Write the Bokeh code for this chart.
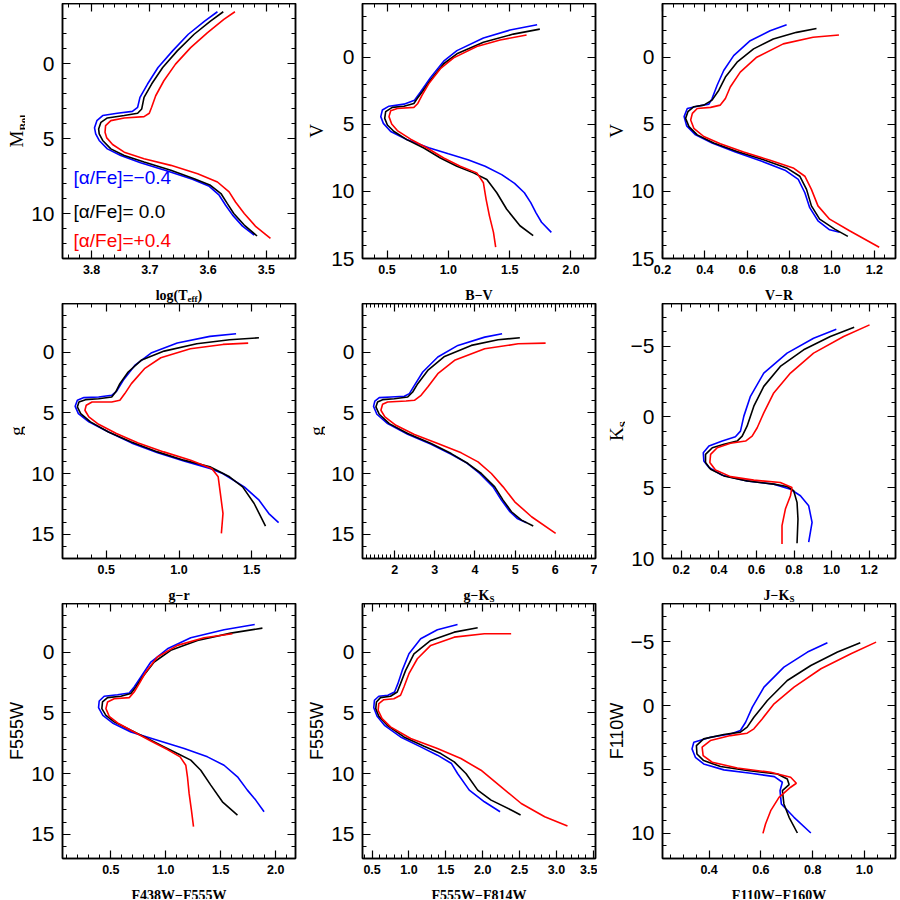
import math
from bokeh.plotting import figure
from bokeh.models import (Range1d, LinearAxis, SingleIntervalTicker, PrintfTickFormatter,
                          CustomJSTickFormatter, Label)
from bokeh.layouts import gridplot
from bokeh.embed import file_html
from bokeh.resources import INLINE

BLUE = "#0000ff"
BLACK = "#000000"
RED = "#ff0000"
LEGEND = ["[α/Fe]=−0.4", "[α/Fe]= 0.0", "[α/Fe]=+0.4"]

# ---------------- Panel 1: log(Teff) vs M_Bol ----------------
logteff_blue = [3.584, 3.606, 3.634, 3.661, 3.686, 3.704, 3.717, 3.721, 3.730, 3.756, 3.781, 3.791, 3.795,
                3.793, 3.787, 3.773, 3.750, 3.716, 3.670, 3.627, 3.598, 3.581, 3.570, 3.558, 3.541, 3.521]
mbol_blue = [-3.45, -2.83, -1.95, -0.84, 0.27, 1.37, 2.26, 2.92, 3.19, 3.32, 3.47, 3.81, 4.29,
             4.69, 5.13, 5.69, 6.13, 6.62, 7.17, 7.72, 8.19, 8.78, 9.45, 10.11, 10.84, 11.44]
logteff_black = [3.574, 3.596, 3.624, 3.653, 3.678, 3.697, 3.710, 3.714, 3.721, 3.744, 3.773, 3.784, 3.788,
                 3.787, 3.781, 3.767, 3.744, 3.710, 3.664, 3.624, 3.596, 3.578, 3.567, 3.556, 3.538, 3.516]
mbol_black = [-3.45, -2.83, -1.95, -0.84, 0.27, 1.37, 2.26, 3.03, 3.32, 3.47, 3.63, 3.92, 4.36,
              4.69, 5.13, 5.69, 6.13, 6.57, 7.12, 7.68, 8.12, 8.67, 9.34, 10.0, 10.77, 11.5]
logteff_red = [3.554, 3.573, 3.601, 3.630, 3.656, 3.676, 3.690, 3.697, 3.701, 3.710, 3.744, 3.767, 3.776,
               3.777, 3.774, 3.764, 3.744, 3.710, 3.664, 3.618, 3.584, 3.564, 3.553, 3.538, 3.518, 3.493]
mbol_red = [-3.45, -2.94, -2.06, -1.06, 0.04, 1.15, 2.15, 2.92, 3.32, 3.54, 3.63, 3.81, 4.14,
            4.58, 4.96, 5.40, 5.91, 6.35, 6.79, 7.35, 7.90, 8.56, 9.23, 10.0, 10.88, 11.66]

# ---------------- Panel 2: B-V vs V ----------------
bv_blue = [1.724, 1.503, 1.286, 1.070, 0.962, 0.854, 0.773, 0.724, 0.638, 0.516, 0.462, 0.449, 0.470,
           0.530, 0.665, 0.840, 1.000, 1.160, 1.300, 1.435, 1.540, 1.620, 1.672, 1.715, 1.760, 1.840]
v_bv_blue = [-2.41, -2.02, -1.43, -0.49, 0.30, 1.53, 2.59, 3.20, 3.50, 3.65, 3.94, 4.43, 4.93,
             5.54, 6.16, 6.75, 7.20, 7.64, 8.13, 8.75, 9.40, 10.10, 10.84, 11.60, 12.30, 13.05]
bv_black = [1.746, 1.530, 1.286, 1.070, 0.962, 0.854, 0.786, 0.746, 0.719, 0.638, 0.543, 0.489, 0.481,
            0.503, 0.557, 0.665, 0.800, 0.935, 1.070, 1.205, 1.314, 1.395, 1.476, 1.584, 1.692]
v_bv_black = [-2.09, -1.72, -1.11, -0.25, 0.49, 1.72, 2.59, 3.08, 3.45, 3.65, 3.74, 4.06, 4.56,
              5.05, 5.54, 6.16, 6.77, 7.51, 8.13, 8.62, 9.11, 10.10, 11.33, 12.56, 13.30]
bv_red = [1.638, 1.422, 1.232, 1.043, 0.935, 0.841, 0.786, 0.751, 0.719, 0.584, 0.530, 0.516,
          0.538, 0.584, 0.692, 0.827, 0.962, 1.097, 1.232, 1.286, 1.308, 1.335, 1.368, 1.386]
v_bv_red = [-1.65, -1.28, -0.79, 0.05, 0.86, 1.97, 2.83, 3.45, 3.74, 3.82, 3.99, 4.43,
            4.98, 5.47, 6.11, 6.77, 7.51, 8.13, 8.62, 9.36, 10.59, 11.82, 13.05, 14.16]

# ---------------- Panel 3: V-R vs V ----------------
vr_blue = [0.786, 0.708, 0.614, 0.536, 0.489, 0.458, 0.434, 0.419, 0.364, 0.317, 0.302, 0.314,
           0.356, 0.434, 0.544, 0.669, 0.778, 0.841, 0.872, 0.895, 0.934, 0.989, 1.036]
v_vr_blue = [-2.41, -1.97, -1.23, -0.12, 0.99, 2.09, 3.08, 3.50, 3.65, 3.82, 4.43, 5.12,
             5.79, 6.40, 7.07, 7.76, 8.42, 9.11, 10.10, 11.21, 12.19, 12.86, 13.05]
vr_black = [0.927, 0.833, 0.723, 0.630, 0.552, 0.497, 0.466, 0.434, 0.395, 0.348, 0.320, 0.309,
            0.325, 0.364, 0.442, 0.552, 0.677, 0.786, 0.848, 0.880, 0.903, 0.942, 1.013, 1.075]
v_vr_black = [-2.14, -1.85, -1.35, -0.62, 0.37, 1.48, 2.46, 3.20, 3.57, 3.69, 4.06, 4.56,
              5.17, 5.79, 6.40, 7.02, 7.64, 8.25, 8.87, 9.85, 11.08, 12.07, 12.81, 13.35]
vr_red = [1.033, 0.911, 0.770, 0.645, 0.567, 0.520, 0.497, 0.473, 0.427, 0.364, 0.341, 0.333,
          0.348, 0.395, 0.473, 0.583, 0.708, 0.817, 0.872, 0.903, 0.934, 0.989, 1.083, 1.223]
v_vr_red = [-1.65, -1.48, -0.99, 0.00, 1.11, 2.22, 3.08, 3.57, 3.74, 3.82, 4.19, 4.68,
            5.30, 5.91, 6.45, 7.07, 7.68, 8.25, 8.87, 9.85, 11.08, 12.07, 12.93, 14.16]

# ---------------- Panel 4: g-r vs g ----------------
gr_blue = [1.392, 1.212, 0.988, 0.808, 0.696, 0.617, 0.572, 0.538, 0.448, 0.347, 0.302, 0.287,
           0.309, 0.381, 0.516, 0.673, 0.853, 1.033, 1.212, 1.300, 1.448, 1.550, 1.617, 1.684]
g_gr_blue = [-1.51, -1.29, -0.74, 0.08, 1.10, 2.33, 3.21, 3.56, 3.70, 3.75, 3.97, 4.47,
             5.07, 5.75, 6.58, 7.48, 8.30, 8.96, 9.59, 10.00, 11.10, 12.20, 13.30, 14.05]
gr_black = [1.549, 1.347, 1.122, 0.898, 0.740, 0.651, 0.594, 0.565, 0.538, 0.448, 0.358, 0.313,
            0.302, 0.325, 0.392, 0.516, 0.673, 0.853, 1.033, 1.212, 1.347, 1.437, 1.516, 1.594]
g_gr_black = [-1.18, -1.01, -0.68, -0.08, 0.68, 1.64, 2.60, 3.29, 3.70, 3.84, 3.92, 4.11,
              4.52, 5.07, 5.75, 6.58, 7.40, 8.22, 8.90, 9.45, 10.27, 11.10, 12.47, 14.33]
gr_red = [1.475, 1.302, 1.078, 0.875, 0.763, 0.673, 0.628, 0.594, 0.538, 0.403, 0.363, 0.354,
          0.381, 0.448, 0.570, 0.720, 0.895, 1.080, 1.225, 1.269, 1.284, 1.302, 1.291]
g_gr_red = [-0.74, -0.63, -0.27, 0.47, 1.37, 2.60, 3.42, 3.97, 4.11, 4.11, 4.38, 4.79,
            5.34, 5.95, 6.71, 7.48, 8.22, 8.90, 9.59, 10.27, 11.64, 13.29, 14.93]

# ---------------- Panel 5: g-Ks vs g ----------------
gk_blue = [4.675, 4.242, 3.575, 3.075, 2.700, 2.492, 2.367, 2.242, 1.908, 1.617, 1.508, 1.475,
           1.558, 1.825, 2.325, 2.908, 3.408, 3.800, 4.117, 4.450, 4.658, 4.870, 5.050, 5.283]
g_gk_blue = [-1.51, -1.23, -0.55, 0.41, 1.64, 2.74, 3.42, 3.64, 3.70, 3.75, 4.03, 4.47,
             5.12, 5.89, 6.77, 7.59, 8.41, 9.15, 10.00, 11.10, 12.19, 13.15, 13.70, 14.05]
gk_black = [5.117, 4.575, 3.908, 3.242, 2.825, 2.575, 2.450, 2.325, 1.992, 1.700, 1.575, 1.533,
            1.617, 1.867, 2.325, 2.908, 3.408, 3.825, 4.158, 4.492, 4.700, 4.908, 5.158, 5.450]
g_gk_black = [-1.18, -1.01, -0.55, 0.36, 1.51, 2.60, 3.29, 3.70, 3.84, 3.92, 4.11, 4.52,
              5.12, 5.89, 6.71, 7.53, 8.36, 9.18, 10.00, 11.10, 12.19, 13.15, 13.84, 14.33]
gk_red = [5.758, 5.075, 4.242, 3.492, 3.075, 2.825, 2.658, 2.492, 2.283, 1.825, 1.700, 1.658,
          1.758, 2.033, 2.492, 3.075, 3.658, 4.075, 4.408, 4.700, 4.990, 5.408, 6.008]
g_gk_red = [-0.74, -0.68, -0.27, 0.68, 1.78, 2.88, 3.56, 3.97, 4.03, 4.11, 4.30, 4.79,
            5.34, 6.03, 6.79, 7.53, 8.30, 9.04, 10.00, 11.10, 12.33, 13.56, 14.93]

# ---------------- Panel 6: J-Ks vs Ks ----------------
jk_blue = [1.025, 0.904, 0.763, 0.639, 0.568, 0.533, 0.515, 0.488, 0.418, 0.347, 0.317,
           0.320, 0.347, 0.418, 0.550, 0.692, 0.781, 0.834, 0.878, 0.896, 0.878]
k_jk_blue = [-6.18, -5.55, -4.50, -3.09, -1.45, -0.05, 1.01, 1.41, 1.71, 2.06, 2.53,
             3.11, 3.58, 4.12, 4.52, 4.75, 5.11, 5.57, 6.28, 7.45, 8.85]
jk_black = [1.120, 0.993, 0.851, 0.727, 0.639, 0.586, 0.550, 0.524, 0.497, 0.427, 0.365,
            0.329, 0.329, 0.356, 0.427, 0.550, 0.692, 0.763, 0.798, 0.816, 0.821, 0.816]
k_jk_black = [-6.32, -5.67, -4.73, -3.56, -2.15, -0.75, 0.66, 1.36, 1.71, 1.94, 2.18,
              2.65, 3.23, 3.70, 4.17, 4.52, 4.75, 4.92, 5.22, 6.04, 7.21, 8.92]
jk_red = [1.202, 1.064, 0.904, 0.781, 0.692, 0.639, 0.604, 0.577, 0.542, 0.462, 0.391,
          0.356, 0.352, 0.382, 0.462, 0.586, 0.727, 0.789, 0.781, 0.754, 0.736, 0.736]
k_jk_red = [-6.49, -5.67, -4.50, -3.09, -1.69, -0.28, 0.77, 1.36, 1.71, 1.87, 2.18,
            2.65, 3.23, 3.75, 4.22, 4.47, 4.64, 4.99, 5.57, 6.51, 7.68, 8.97]

# ---------------- Panel 7: F438W-F555W vs F555W ----------------
c438_blue = [1.809, 1.530, 1.227, 1.015, 0.864, 0.773, 0.712, 0.667, 0.561, 0.439, 0.394, 0.388,
             0.427, 0.515, 0.682, 0.924, 1.167, 1.379, 1.530, 1.652, 1.742, 1.818, 1.894]
m438_blue = [-2.27, -1.84, -1.18, -0.27, 0.82, 2.05, 2.88, 3.37, 3.51, 3.64, 4.03, 4.58,
             5.21, 5.84, 6.58, 7.26, 7.95, 8.63, 9.32, 10.27, 11.37, 12.19, 13.15]
c438_black = [1.879, 1.591, 1.288, 1.045, 0.894, 0.788, 0.727, 0.682, 0.591, 0.470, 0.424, 0.418,
              0.455, 0.530, 0.682, 0.833, 0.985, 1.106, 1.227, 1.318, 1.409, 1.515, 1.652]
m438_black = [-1.97, -1.56, -0.96, -0.14, 0.82, 2.05, 2.88, 3.42, 3.64, 3.75, 4.11, 4.66,
              5.21, 5.75, 6.44, 7.12, 7.81, 8.36, 8.90, 9.73, 10.96, 12.33, 13.42]
c438_red = [1.606, 1.348, 1.106, 0.924, 0.818, 0.758, 0.712, 0.667, 0.530, 0.470, 0.455,
            0.485, 0.561, 0.712, 0.864, 1.015, 1.130, 1.182, 1.197, 1.212, 1.233, 1.252]
m438_red = [-1.51, -1.18, -0.55, 0.41, 1.64, 2.60, 3.29, 3.75, 3.84, 4.11, 4.66,
            5.29, 5.84, 6.58, 7.32, 8.03, 8.63, 9.32, 10.27, 11.64, 13.01, 14.38]

# ---------------- Panel 8: F555W-F814W vs F555W ----------------
c814_blue = [1.659, 1.386, 1.159, 1.000, 0.909, 0.850, 0.805, 0.714, 0.591, 0.532, 0.523,
             0.568, 0.668, 0.886, 1.159, 1.386, 1.577, 1.659, 1.818, 2.023, 2.236]
m814_blue = [-2.27, -1.84, -1.10, 0.14, 1.51, 2.60, 3.29, 3.56, 3.64, 3.97, 4.58,
             5.29, 6.03, 6.99, 7.81, 8.49, 9.18, 10.00, 11.37, 12.33, 13.15]
c814_black = [1.932, 1.614, 1.295, 1.068, 0.955, 0.886, 0.841, 0.750, 0.614, 0.559, 0.550,
              0.591, 0.705, 0.932, 1.205, 1.432, 1.614, 1.773, 1.932, 2.114, 2.386, 2.514]
m814_black = [-2.00, -1.64, -0.96, 0.14, 1.51, 2.60, 3.29, 3.64, 3.75, 4.11, 4.66,
              5.29, 6.03, 6.99, 7.75, 8.36, 9.04, 10.00, 11.37, 12.19, 13.01, 13.42]
c814_red = [2.386, 2.023, 1.614, 1.295, 1.114, 1.000, 0.932, 0.886, 0.795, 0.659, 0.591,
            0.582, 0.636, 0.750, 1.023, 1.386, 1.705, 1.977, 2.250, 2.523, 2.841, 3.150]
m814_red = [-1.51, -1.51, -1.23, -0.55, 0.55, 1.78, 2.88, 3.56, 3.84, 3.92, 4.25,
            4.79, 5.48, 6.16, 7.12, 7.95, 8.77, 9.73, 11.10, 12.47, 13.56, 14.33]

# ---------------- Panel 9: F110W-F160W vs F110W ----------------
c160_blue = [0.857, 0.780, 0.689, 0.612, 0.567, 0.541, 0.521, 0.483, 0.405, 0.341, 0.334,
             0.347, 0.379, 0.457, 0.561, 0.652, 0.683, 0.674, 0.679, 0.728, 0.793]
m160_blue = [-4.92, -4.19, -3.01, -1.44, 0.13, 1.31, 1.96, 2.23, 2.49, 2.88, 3.40,
             4.06, 4.58, 5.05, 5.31, 5.58, 6.02, 6.68, 7.72, 8.77, 10.00]
c160_black = [0.984, 0.896, 0.793, 0.702, 0.625, 0.573, 0.547, 0.521, 0.457, 0.379, 0.351,
              0.353, 0.379, 0.444, 0.547, 0.664, 0.702, 0.709, 0.683, 0.689, 0.709, 0.741]
m160_black = [-4.92, -4.19, -3.14, -1.96, -0.39, 0.92, 1.70, 2.09, 2.28, 2.62, 3.14,
              3.80, 4.32, 4.79, 5.10, 5.37, 5.76, 6.20, 6.68, 7.72, 8.77, 10.00]
c160_red = [1.045, 0.948, 0.832, 0.728, 0.651, 0.605, 0.573, 0.547, 0.483, 0.405, 0.373,
            0.377, 0.412, 0.509, 0.638, 0.715, 0.737, 0.715, 0.670, 0.638, 0.618, 0.608]
m160_red = [-4.97, -4.06, -2.88, -1.44, -0.13, 1.05, 1.83, 2.17, 2.36, 2.75, 3.27,
            3.93, 4.45, 4.90, 5.24, 5.63, 6.10, 6.41, 7.20, 8.25, 9.29, 10.03]

SERIF = "Liberation Serif"
SANS = "Liberation Sans"
FW, FH = 233, 255          # nominal plot frame size
BL, BR, BB = 37, 2, 23     # borders of each plot figure
MAIN_W = BL + FW + BR      # 272
MAIN_H = FH + BB           # 278
YT_W = 28                  # width of y-title strip (YT_W + BL = 65)


def style_axis(ax, labels, font_size="11px", font_style="normal", standoff=8):
    ax.axis_line_color = "black"
    ax.axis_line_width = 1.5
    ax.major_tick_line_color = "black"
    ax.major_tick_line_width = 1.2
    ax.minor_tick_line_color = "black"
    ax.minor_tick_line_width = 1.0
    ax.major_tick_in = 8
    ax.major_tick_out = 0
    ax.minor_tick_in = 4
    ax.minor_tick_out = 0
    ax.axis_label = None
    if labels:
        ax.major_label_text_font = SANS
        ax.major_label_text_font_size = font_size
        ax.major_label_text_font_style = font_style
        ax.major_label_text_color = "black"
        ax.major_label_standoff = standoff
    else:
        ax.major_label_text_font_size = "0px"
        ax.major_label_text_color = None
        ax.major_label_standoff = 0


def blank(width, height):
    f = figure(width=width, height=height, min_border=0, x_range=Range1d(0, 1), y_range=Range1d(0, 1),
               x_axis_location=None, y_axis_location=None, output_backend="svg", toolbar_location=None,
               background_fill_color="white", border_fill_color="white")
    f.title.visible = False
    f.outline_line_color = None
    f.xgrid.visible = False
    f.ygrid.visible = False
    return f


def add_pieces(f, pieces, c, base, vertical):
    # pieces: (text, size_px, width_px, shift_px, font, style)
    if len(pieces) == 1:
        text, size, w, shift, font, style = pieces[0]
        kw = dict(text=text, x_units="screen", y_units="screen", text_align="center",
                  text_baseline="alphabetic", text_font=font, text_font_size=f"{size}px",
                  text_font_style=style, text_color="black")
        if vertical:
            f.add_layout(Label(x=base, y=c, angle=math.pi / 2, **kw))
        else:
            f.add_layout(Label(x=c, y=base, **kw))
        return
    total = sum(pc[2] for pc in pieces)
    pos = c - total / 2.0
    for text, size, w, shift, font, style in pieces:
        kw = dict(text=text, x_units="screen", y_units="screen", text_align="left",
                  text_baseline="alphabetic", text_font=font, text_font_size=f"{size}px",
                  text_font_style=style, text_color="black")
        if vertical:
            f.add_layout(Label(x=base + shift, y=pos, angle=math.pi / 2, **kw))
        else:
            f.add_layout(Label(x=pos, y=base - shift, **kw))
        pos += w


def panel(series, xr, yr, xint, xminor, xfmt):
    p = figure(width=MAIN_W, height=MAIN_H, x_range=Range1d(*xr), y_range=Range1d(*yr),
               min_border_left=BL, min_border_right=BR, min_border_top=0, min_border_bottom=BB,
               output_backend="svg", toolbar_location=None,
               background_fill_color="white", border_fill_color="white")
    p.title.visible = False
    p.xgrid.visible = False
    p.ygrid.visible = False
    p.outline_line_color = "black"
    p.outline_line_width = 1.5
    for xs, ys, col in series:
        p.line(xs, ys, line_color=col, line_width=1.6)
    bx = p.below[0]
    ly = p.left[0]
    bx.ticker = SingleIntervalTicker(interval=xint, num_minor_ticks=xminor)
    bx.formatter = PrintfTickFormatter(format=xfmt)
    ly.ticker = SingleIntervalTicker(interval=5, num_minor_ticks=5)
    ly.formatter = CustomJSTickFormatter(code="return (tick < 0 ? '\u2212' : '') + Math.abs(Math.round(tick));")
    style_axis(bx, True, "12.5px", "bold", 6)
    style_axis(ly, True, "21px", "normal", 8)
    top = LinearAxis(ticker=SingleIntervalTicker(interval=xint, num_minor_ticks=xminor))
    right = LinearAxis(ticker=SingleIntervalTicker(interval=5, num_minor_ticks=5))
    style_axis(top, False)
    style_axis(right, False)
    p.add_layout(top, "above")
    p.add_layout(right, "right")
    return p


def ytitle(pieces):
    # the strip's frame is aligned with the plot frames of its grid row
    f = blank(YT_W, MAIN_H)
    add_pieces(f, pieces, FH / 2.0, 19, True)
    return f


def xtitle(pieces, height, base):
    # the strip's frame is aligned with the plot frames of its grid column
    f = blank(MAIN_W, height)
    add_pieces(f, pieces, FW / 2.0, base, False)
    return f


def xt(text, w):
    return [(text, 14, w, 0, SERIF, "bold")]


p1 = panel([(logteff_blue, mbol_blue, BLUE), (logteff_black, mbol_black, BLACK), (logteff_red, mbol_red, RED)],
           (3.85, 3.45), (13, -4), 0.1, 5, "%.1f")
for txt, col, yy in zip(LEGEND, [BLUE, BLACK, RED], [81, 47, 18]):
    p1.add_layout(Label(x=11, y=yy, x_units="screen", y_units="screen", text=txt, text_color=col,
                        text_font=SANS, text_font_size="19px", text_baseline="middle", text_align="left"))
p2 = panel([(bv_blue, v_bv_blue, BLUE), (bv_black, v_bv_black, BLACK), (bv_red, v_bv_red, RED)],
           (0.3, 2.2), (15, -4), 0.5, 5, "%.1f")
p3 = panel([(vr_blue, v_vr_blue, BLUE), (vr_black, v_vr_black, BLACK), (vr_red, v_vr_red, RED)],
           (0.2, 1.3), (15, -4), 0.2, 4, "%.1f")
p4 = panel([(gr_blue, g_gr_blue, BLUE), (gr_black, g_gr_black, BLACK), (gr_red, g_gr_red, RED)],
           (0.2, 1.8), (17, -4), 0.5, 5, "%.1f")
p5 = panel([(gk_blue, g_gk_blue, BLUE), (gk_black, g_gk_black, BLACK), (gk_red, g_gk_red, RED)],
           (1.2, 7.0), (17, -4), 1, 10, "%d")
p6 = panel([(jk_blue, k_jk_blue, BLUE), (jk_black, k_jk_black, BLACK), (jk_red, k_jk_red, RED)],
           (0.1, 1.34), (10, -8), 0.2, 4, "%.1f")
p7 = panel([(c438_blue, m438_blue, BLUE), (c438_black, m438_black, BLACK), (c438_red, m438_red, RED)],
           (0.06, 2.18), (17, -4), 0.5, 5, "%.1f")
p8 = panel([(c814_blue, m814_blue, BLUE), (c814_black, m814_black, BLACK), (c814_red, m814_red, RED)],
           (0.37, 3.53), (17, -4), 0.5, 5, "%.1f")
p9 = panel([(c160_blue, m160_blue, BLUE), (c160_black, m160_black, BLACK), (c160_red, m160_red, RED)],
           (0.22, 1.12), (12, -8), 0.2, 4, "%.1f")

Y_MBOL = [("M", 19, 16.9, 0, SERIF, "normal"), ("Bol", 11, 15.9, 6.5, SERIF, "bold")]
Y_V = [("V", 19, 13.7, 0, SERIF, "normal")]
Y_G = [("g", 19, 9.5, 0, SERIF, "normal")]
Y_KS = [("K", 19, 13.7, 0, SERIF, "normal"), ("S", 11, 6.1, 6.5, SERIF, "bold")]
Y_F555 = [("F555W", 18, 58, 0, SANS, "normal")]
Y_F110 = [("F110W", 18, 58, 0, SANS, "normal")]

X_TEFF = [("log(T", 14, 31.9, 0, SERIF, "bold"), ("eff", 9, 10.0, 3, SERIF, "bold"), (")", 14, 4.7, 0, SERIF, "bold")]
X_GK = [("g−K", 14, 25.9, 0, SERIF, "bold"), ("S", 9, 5.0, 3, SERIF, "bold")]
X_JK = [("J−K", 14, 25.9, 0, SERIF, "bold"), ("S", 9, 5.0, 3, SERIF, "bold")]

XH12, XB12 = 22, 8    # x-title strip height / baseline for rows 1-2
XH3, XB3 = 18, 4      # for row 3

rows = [
    [ytitle(Y_MBOL), p1, ytitle(Y_V), p2, ytitle(Y_V), p3],
    [None, xtitle(X_TEFF, XH12, XB12), None, xtitle(xt("B−V", 26), XH12, XB12), None,
     xtitle(xt("V−R", 28), XH12, XB12)],
    [ytitle(Y_G), p4, ytitle(Y_G), p5, ytitle(Y_KS), p6],
    [None, xtitle(xt("g−r", 22), XH12, XB12), None, xtitle(X_GK, XH12, XB12), None,
     xtitle(X_JK, XH12, XB12)],
    [ytitle(Y_F555), p7, ytitle(Y_F555), p8, ytitle(Y_F110), p9],
    [None, xtitle(xt("F438W−F555W", 95), XH3, XB3), None, xtitle(xt("F555W−F814W", 95), XH3, XB3), None,
     xtitle(xt("F110W−F160W", 95), XH3, XB3)],
]

grid = gridplot(rows, toolbar_location=None)
grid.margin = (3, 0, 0, -3)

open("out.html", "w").write(file_html(grid, INLINE))
